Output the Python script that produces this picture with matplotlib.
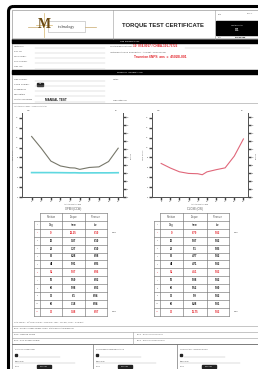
import matplotlib
matplotlib.use("Agg")
import matplotlib.pyplot as plt
from matplotlib.patches import Rectangle, FancyBboxPatch

plt.rcParams['font.family'] = ['Liberation Sans', 'DejaVu Sans']

# table data
positions = [0, 10, 20, 30, 40, 45, 50, 60, 70, 80, 90]
open_torque = [12.25, 9.87, 7.27, 6.28, 5.91, 5.87, 5.59, 5.98, 6.1, 7.18, 9.88]
open_pressure = [6.1, 6.1, 6.1, 6.08, 6.05, 6.06, 6.02, 6.03, 6.04, 6.04, 6.07]
close_torque = [6.79, 5.87, 5.1, 4.77, 4.71, 4.51, 5.08, 5.52, 5.9, 8.28, 11.75]
close_pressure = [5.82, 5.82, 5.85, 5.82, 5.82, 5.82, 5.82, 5.80, 5.82, 5.81, 5.82]
red_rows = [0, 5, 10]

job_labels = ["Customer", "P.O. Nr", "Work Order", "Job Number", "Tag. No."]
prod_labels = ["Tag Number", "Serial Number", "Drawing Nr", "Description", "Test Procedure"]

W, H = 258, 369
RED = "#e3242b"
LINE = "#9a9a9a"
TXT = "#555555"

fig = plt.figure(figsize=(W / 100, H / 100), dpi=100)
ax = fig.add_axes([0, 0, 1, 1])
ax.set_xlim(0, W)
ax.set_ylim(H, 0)
ax.axis('off')


def hline(y, x0=12, x1=258, c=LINE, lw=0.4):
    ax.plot([x0, x1], [y, y], color=c, lw=lw)


def vline(x, y0, y1, c=LINE, lw=0.4):
    ax.plot([x, x], [y0, y1], color=c, lw=lw)


def txt(x, y, s, fs=1.7, c=TXT, **kw):
    ax.text(x, y, s, fontsize=fs, color=c, va='center', **kw)


# outer frame
ax.add_patch(FancyBboxPatch((8.5, 6.5), 260, 370, boxstyle="round,pad=0,rounding_size=5",
                            fill=False, ec='black', lw=2.2))
ax.add_patch(Rectangle((12, 10), 250, 365, fill=False, ec=LINE, lw=0.5))

# header
vline(113, 10, 39)
vline(215, 10, 39)
hline(39)
ax.plot([28, 40], [27, 27], color="#c8a86a", lw=0.5)
ax.plot([85, 96], [27, 27], color="#c8a86a", lw=0.5)
ax.add_patch(Rectangle((48, 21), 37, 11, fill=False, ec="#b0b0b0", lw=0.4))
ax.plot([44, 44], [13, 37], color="#d6b66e", lw=0.5)
ax.plot([36, 52], [25, 25], color="#d6b66e", lw=0.5)
ax.text(44, 25, "M", fontsize=10, family='Liberation Serif', color="#6b4a12",
        ha='center', va='center', fontweight='bold')
ax.text(67, 27, "technology", fontsize=2.8, family='Liberation Serif', color="#333333",
        ha='center', va='center')
ax.text(163, 25, "TORQUE TEST CERTIFICATE", fontsize=4.2, fontweight='bold',
        color="#222222", ha='center', va='center')
txt(218, 14, "Date", fs=1.4)
txt(247, 14, "Rev. 1", fs=1.4)
ax.add_patch(Rectangle((216, 21), 42, 14, color='black'))
ax.text(237, 25, "Test Report Nr", fontsize=1.4, color='white', ha='center', va='center')
ax.text(237, 30, "001", fontsize=1.8, color='white', ha='center', va='center', fontweight='bold')
txt(218, 37, "Date", fs=1.3)
ax.text(235, 37, "04/01/2022", fontsize=1.6, color='black', va='center', fontweight='bold')

# job information
ax.add_patch(Rectangle((12, 39), 246, 4, color='black'))
ax.text(130, 41, "JOB INFORMATION", fontsize=1.5, color='white', ha='center', va='center')
for i, lab in enumerate(job_labels):
    y = 46 + i * 5.2
    txt(14, y, lab)
    hline(y + 1.8, 35, 105, c="#c0c0c0", lw=0.3)
txt(110, 46, "Test Equipment Unit :")
ax.text(133, 46, "10  074-0017 / CHBA-101-75722", fontsize=2.2, color=RED,
        va='center', fontweight='bold')
txt(110, 52, "Instrument Valve Description - As-built : Valve Model")
ax.text(160, 57, "Trunnion 6NPS  ans  \u2261  4502B-001", fontsize=2.3, color=RED,
        ha='center', va='center', fontweight='bold')
hline(48, 185, 250, c="#c0c0c0", lw=0.3)

# product information
ax.add_patch(Rectangle((12, 70), 246, 4, color='black'))
ax.text(130, 72, "PRODUCT INFORMATION", fontsize=1.5, color='white', ha='center', va='center')
for i, lab in enumerate(prod_labels):
    y = 79 + i * 5.2
    txt(14, y, lab)
    hline(y + 1.8, 35, 105, c="#c0c0c0", lw=0.3)
ax.add_patch(Rectangle((37, 82.5), 6, 3, color='#222222'))
ax.text(40, 84, "001", fontsize=1.2, color='white', ha='center', va='center')
txt(30, 100, "Nr.")
ax.text(45, 100, "MANUAL TEST", fontsize=2.2, color='#111111', va='center', fontweight='bold')
txt(113, 79, "Notes")
txt(113, 100, "Operation Nr")
hline(103)
txt(14, 106, "Actuator's 24V/6007 - Valve and Actuator", fs=1.3)


def style(a):
    a.spines['top'].set_visible(False)
    for s in a.spines.values():
        s.set_linewidth(0.7)
        s.set_color('#555555')
    a.tick_params(length=2.2, width=1.0, labelsize=1.5, pad=0.8, colors='#444444')


# charts
def chart(x0, x1, torque, color, pressure=None):
    y0, y1 = 113, 197
    a = fig.add_axes([x0 / W, 1 - y1 / H, (x1 - x0) / W, (y1 - y0) / H])
    a.plot(positions, torque, color=color, lw=0.8)
    a.set_xlim(-10, 95)
    a.set_ylim(0, 17)
    a.set_xticks(range(0, 91, 10))
    a.set_yticks(range(0, 17, 2))
    style(a)
    b = a.twinx()
    b.set_ylim(0, 21)
    b.set_yticks(range(0, 21, 2))
    style(b)
    if pressure is not None:
        b.plot(positions, pressure, color="#5fd8e0", lw=1.2)
    a.set_xlabel("Actuator Position Deg", fontsize=1.3, labelpad=1, color='#555555')
    a.set_ylabel("Valve Torque", fontsize=1.3, labelpad=1, color='#555555')
    b.set_ylabel("Pressure", fontsize=1.3, labelpad=1, color='#555555')
    a.text(0.05, 1.02, "kNm", transform=a.transAxes, fontsize=1.3, color='#555555')
    b.text(0.95, 1.02, "bar", transform=b.transAxes, fontsize=1.3, color='#555555', ha='right')


chart(22, 123, open_torque, "#77776a", open_pressure)
chart(152, 248, close_torque, "#e0677a")


# tables
def table(xs, title, torque, pressure, top_lab, bot_lab):
    top = 213
    rh = 7.9
    nrows = len(positions) + 2
    bottom = top + rh * nrows
    ax.text((xs[1] + xs[-1]) / 2, 209, title, fontsize=1.9, color=TXT, ha='center', va='center')
    for x in xs:
        vline(x, top if x != xs[0] else top + rh, bottom, c='#777777', lw=0.45)
    for r in range(nrows + 1):
        x0 = xs[0] if r >= 1 else xs[1]
        hline(top + r * rh, x0, xs[-1], c='#777777', lw=0.45)
    heads = ["Position", "Torque", "Pressure"]
    units = ["Deg", "n'mm", "bar"]
    for j in range(3):
        cx = (xs[j + 1] + xs[j + 2]) / 2
        ax.text(cx, top + rh / 2, heads[j], fontsize=1.8, color=TXT, ha='center', va='center')
        ax.text(cx, top + 1.5 * rh, units[j], fontsize=1.8, color='#111111', ha='center', va='center')
    ax.text((xs[0] + xs[1]) / 2, top + 1.5 * rh, "#", fontsize=1.2, color=TXT, ha='center', va='center')
    for i, (p, t, pr) in enumerate(zip(positions, torque, pressure)):
        y = top + (i + 2.5) * rh
        c = RED if i in red_rows else '#111111'
        ax.text((xs[0] + xs[1]) / 2, y, str(i + 1), fontsize=1.2, color=c if i in red_rows else TXT,
                ha='center', va='center')
        vals = [str(p), f"{t:g}", f"{pr:.2f}"]
        for j in range(3):
            cx = (xs[j + 1] + xs[j + 2]) / 2
            ax.text(cx, y, vals[j], fontsize=2.0, color=c, ha='center', va='center', fontweight='bold')
    txt(xs[-1] + 5, top + 2.5 * rh, top_lab, fs=1.7)
    txt(xs[-1] + 5, top + (nrows - 0.5) * rh, bot_lab, fs=1.7)


table([34, 40, 62, 85, 107], "OPEN (CCW)", open_torque, open_pressure, "BTO", "ETO")
table([154, 160, 183, 207, 229], "CLOSE (CW)", close_torque, close_pressure, "ETC", "BTC")

# notes and legend boxes
txt(14, 322, "Note: 1kN*m = 10^3 N.m | 1 in*lbf = 0.113 N.m | 1 bar = 14.5 psi ; 1 N.m = 0.738 lbf.ft", fs=1.4)
hline(325.5)
txt(14, 328.5, "BTO - Break To Open Torque (Under static differential pressure)", fs=1.5)
hline(331.5)
txt(14, 334.5, "RTO - Running Torque", fs=1.5)
txt(137, 334.5, "ETC - End To Close Torque", fs=1.5)
hline(337.5)
txt(14, 340.5, "ETO - End To Open Torque", fs=1.5)
txt(137, 340.5, "BTC - Break To Close Torque", fs=1.5)
hline(343.5, lw=0.6, c='#666666')
vline(133, 331.5, 343.5)

# signatures
sig_titles = ["QUALITY INSPECTOR", "CUSTOMER REPRESENTATIVE", "THIRD PARTY INSPECTION BY"]
sig_x = [12, 93, 177]
for k, t in enumerate(sig_titles):
    x = sig_x[k] + 3
    if k > 0:
        vline(sig_x[k], 343.5, 369, c='#777777', lw=0.5)
    txt(x, 349, t, fs=1.4)
    ax.add_patch(Rectangle((x, 354), 1.6, 1.6, color='#222222'))
    hline(357, x + 4, x + 45, c="#b0b0b0", lw=0.3)
    txt(x, 361, "Stamp/Firm", fs=1.4)
    hline(363, x, x + 60, c="#b0b0b0", lw=0.3)
    txt(x, 366.5, "DATE", fs=1.4)
    ax.add_patch(Rectangle((x + 22, 364.8), 14, 3.4, color='#222222'))
    ax.text(x + 29, 366.5, "04/01/2022", fontsize=1.2, color='white', ha='center', va='center')

fig.savefig("out.png", dpi=100, facecolor='white')
